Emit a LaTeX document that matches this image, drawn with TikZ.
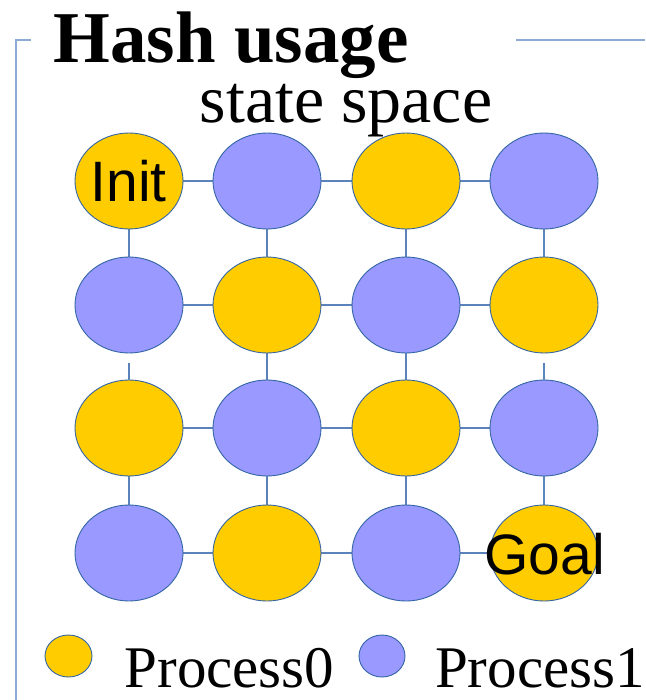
\documentclass[tikz,border=0pt]{standalone}
\usepackage{fontspec}
\setmainfont{Liberation Serif}
\newfontfamily\labelsans{Liberation Sans}
\usetikzlibrary{shapes.geometric}
\definecolor{pzero}{HTML}{FFCC00}
\definecolor{pone}{HTML}{9999FF}
\definecolor{rim}{HTML}{3465A4}
\definecolor{link}{HTML}{5B83BB}
\definecolor{frame}{HTML}{8CAAD4}
\begin{document}
\begin{tikzpicture}[x=1pt,y=-1pt,
  state/.style={ellipse,draw=rim,line width=0.9pt,inner sep=0pt,
    minimum width=108pt,minimum height=96pt},
  zero/.style={state,fill=pzero},
  one/.style={state,fill=pone},
  keyzero/.style={ellipse,draw=rim,line width=0.9pt,fill=pzero,inner sep=0pt,
    minimum width=47pt,minimum height=42pt},
  keyone/.style={ellipse,draw=rim,line width=0.9pt,fill=pone,inner sep=0pt,
    minimum width=46pt,minimum height=42pt},
  edge/.style={draw=link,line width=1.2pt},
  statelabel/.style={inner sep=0pt,anchor=base,font=\labelsans\fontsize{57}{57}\selectfont},
  serif/.style={inner sep=0pt,anchor=base},
  keylabel/.style={serif,text depth=0pt,font=\fontsize{59}{59}\selectfont}]
\useasboundingbox (0,0) rectangle (645,700);

% frame lines
\draw[frame,line width=1.3pt] (31,40) -- (16,40) -- (16,700);
\draw[frame,line width=1.3pt] (516,40) -- (645,40);

% headings
\node[serif,font=\bfseries\fontsize{73}{73}\selectfont] (title) at (231,63) {Hash usage};
\node[serif,font=\fontsize{68}{68}\selectfont] (sub) at (346,123) {state space};

% grid points
\foreach \r/\y in {1/181,2/305,3/428,4/553}{
  \foreach \c/\x in {1/129,2/267,3/406,4/544}{
    \coordinate (p\r\c) at (\x,\y);
  }
}
% connectors (drawn first, beneath the states)
\foreach \r in {1,2,3,4}{
  \draw[edge] (p\r1) -- (p\r2) -- (p\r3) -- (p\r4);
}
\foreach \c in {1,2,3,4}{
  \draw[edge] (p1\c) -- (p2\c);
  \draw[edge] (p3\c) -- (p4\c);
}
\draw[edge] (p22) -- (p32);
\draw[edge] (p23) -- (p33);

% states
\node[zero] (s11) at (p11) {};
\node[one]  (s12) at (p12) {};
\node[zero] (s13) at (p13) {};
\node[one]  (s14) at (p14) {};
\node[one]  (s21) at (p21) {};
\node[zero] (s22) at (p22) {};
\node[one]  (s23) at (p23) {};
\node[zero] (s24) at (p24) {};
\node[zero] (s31) at (p31) {};
\node[one]  (s32) at (p32) {};
\node[zero] (s33) at (p33) {};
\node[one]  (s34) at (p34) {};
\node[one]  (s41) at (p41) {};
\node[zero] (s42) at (p42) {};
\node[one]  (s43) at (p43) {};
\node[zero] (s44) at (p44) {};

% links that overlap the upper state
\draw[edge] ([yshift=-10pt]s21.south) -- (s31.north);
\draw[edge] ([yshift=-10pt]s24.south) -- (s34.north);

% state labels
\node[statelabel] (init) at (128.5,202) {Init};
\node[statelabel] (goal) at (544.5,574) {Goal};

% legend
\node[keyzero] (k0) at (68.5,656) {};
\node[keylabel] (l0) at (229.5,687) {Process0};
\node[keyone] (k1) at (382,656) {};
\node[keylabel] (l1) at (540,687) {Process1};
\end{tikzpicture}
\end{document}
